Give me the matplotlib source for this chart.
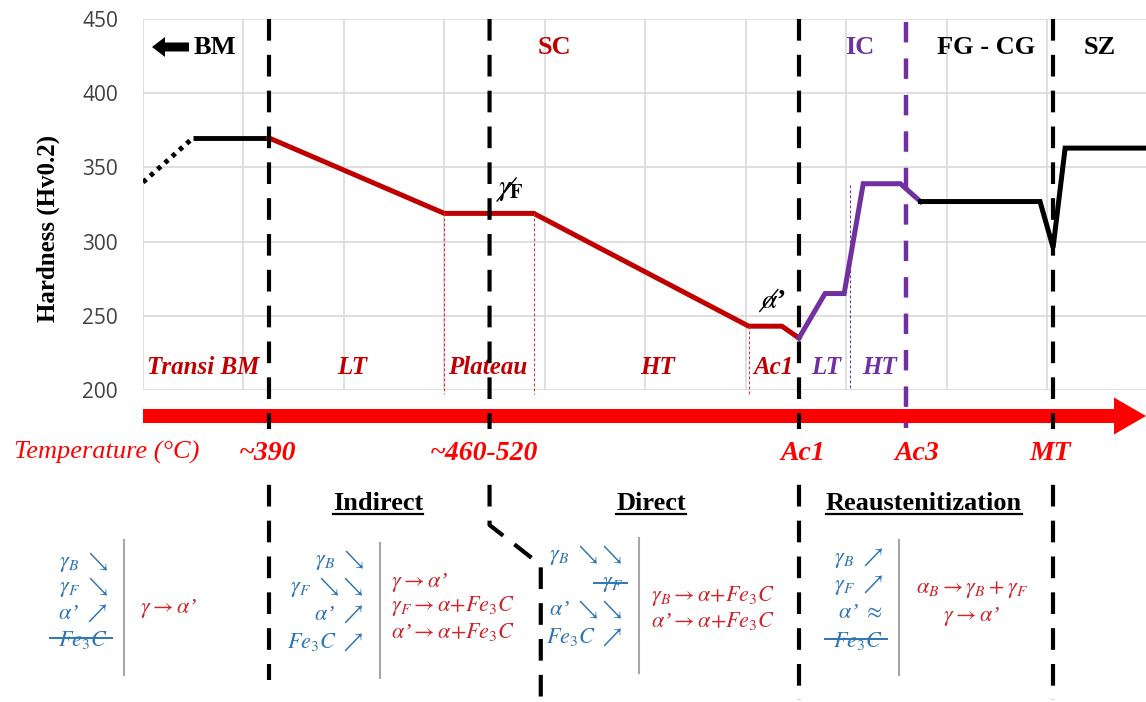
import matplotlib
matplotlib.use('Agg')
import matplotlib.pyplot as plt
from matplotlib.patches import FancyArrow
import matplotlib.transforms as mtransforms

plt.rcParams['mathtext.fontset'] = 'stix'
plt.rcParams['font.family'] = ['Liberation Serif', 'DejaVu Serif']

W, H = 1146, 702

# ---------------- data ----------------
y_ticks = [200, 250, 300, 350, 400, 450]
x_grid = [0, 1, 2, 3, 4, 5, 6, 7, 8, 9, 10]

bm_dot_x = [0.0, 0.5]
bm_dot_y = [340, 370]
bm_x = [0.5, 1.25]
bm_y = [370, 370]
sc_x = [1.25, 3.0, 3.89, 6.03, 6.36, 6.53]
sc_y = [370, 319, 319, 243, 243, 235]
ic_x = [6.53, 6.79, 6.98, 7.17, 7.54, 7.74]
ic_y = [235, 265, 265, 339, 339, 327]
fg_x = [7.74, 8.93, 9.06, 9.18, 10.0]
fg_y = [327, 327, 296, 363, 363]

zone_x = [1.25, 6.53, 9.06]
zone_bottom = [680, 700, 700]
sc_kink_x = [3.45, 3.45, 3.96, 3.96]
sc_kink_y = [19, 525, 565, 700]
ac3_x = 7.6
sc_sub_x = [3.0, 3.89, 6.03]
sc_sub_top = [319, 319, 243]
ic_sub_x = [7.04]
ic_sub_top = [338]

top_labels = ['BM', 'SC', 'IC', 'FG - CG', 'SZ']
top_label_x = [215, 554, 860, 986, 1100]
top_label_col = ['black', '#C00000', '#7030A0', 'black', 'black']

region_labels = ['Transi BM', 'LT', 'Plateau', 'HT', 'Ac1', 'LT', 'HT']
region_x = [203, 352, 488, 658, 773, 826, 880]
region_col = ['#C00000'] * 5 + ['#7030A0'] * 2

temp_labels = ['~390', '~460-520', 'Ac1', 'Ac3', 'MT']
temp_x = [268, 484, 803, 917, 1050]

section_labels = ['Indirect', 'Direct', 'Reaustenitization']
section_x = [378, 651, 924]

AP = '’'
blocks = [
    dict(blue=[r'$\gamma_B\ \searrow$', r'$\gamma_F\ \searrow$', r'$\alpha$' + AP + r' $\nearrow$', r'$Fe_3C$'],
         strike=[False, False, False, True], bx=108, by=[562, 587, 613, 640],
         sep=124, sep_y=(540, 675),
         red=[r'$\gamma \rightarrow \alpha$' + AP], rx=140, ry=[608], rha='left'),
    dict(blue=[r'$\gamma_B\ \searrow$', r'$\gamma_F\ \searrow\!\searrow$', r'$\alpha$' + AP + r' $\nearrow$', r'$Fe_3C\ \nearrow$'],
         strike=[False, False, False, False], bx=364, by=[560, 587, 614, 642],
         sep=380, sep_y=(543, 678),
         red=[r'$\gamma \rightarrow \alpha$' + AP, r'$\gamma_F \rightarrow \alpha{+}Fe_3C$',
              r'$\alpha$' + AP + r'$\rightarrow \alpha{+}Fe_3C$'],
         rx=391, ry=[582, 606, 632], rha='left'),
    dict(blue=[r'$\gamma_B\ \searrow\!\searrow$', r'$\gamma_F$', r'$\alpha$' + AP + r' $\searrow\!\searrow$', r'$Fe_3C\ \nearrow$'],
         strike=[False, True, False, False], bx=623, by=[555, 585, 610, 637],
         sep=639, sep_y=(538, 673),
         red=[r'$\gamma_B \rightarrow \alpha{+}Fe_3C$', r'$\alpha$' + AP + r'$\rightarrow \alpha{+}Fe_3C$'],
         rx=651, ry=[596, 621], rha='left'),
    dict(blue=[r'$\gamma_B\ \nearrow$', r'$\gamma_F\ \nearrow$', r'$\alpha$' + AP + r' $\approx$', r'$Fe_3C$'],
         strike=[False, False, False, True], bx=883, by=[558, 585, 613, 641],
         sep=899, sep_y=(540, 675),
         red=[r'$\alpha_B \rightarrow \gamma_B + \gamma_F$', r'$\gamma \rightarrow \alpha$' + AP],
         rx=972, ry=[590, 617], rha='center'),
]

RED = '#C00000'
PURPLE = '#7030A0'
BLUE = '#2E75B6'
FRED = '#D0242B'
TRED = '#FF0000'

# ---------------- figure ----------------
fig = plt.figure(figsize=(W / 100, H / 100), dpi=100)
ax = fig.add_axes([143 / W, 1 - 390 / H, 1004.5 / W, 371 / H])
ax.set_xlim(0, 10)
ax.set_ylim(200, 450)
ax.set_xticks(x_grid)
ax.set_yticks(y_ticks)
ax.set_xticklabels([])
ax.set_yticklabels([str(v) for v in y_ticks], fontfamily='Open Sans')
ax.tick_params(axis='both', length=0)
ax.tick_params(axis='y', pad=18, labelsize=15, labelcolor='#404040')
ax.grid(True, color='#DCDCDC', lw=1.3)
ax.set_axisbelow(True)
for s in ax.spines.values():
    s.set_visible(False)

# curves
ax.plot(bm_dot_x, bm_dot_y, color='black', lw=3.5, ls=(0, (0.9, 1.1)), solid_capstyle='butt')
ax.plot(bm_x, bm_y, color='black', lw=3.5, solid_capstyle='butt')
ax.plot(sc_x, sc_y, color=RED, lw=3.6, solid_joinstyle='miter')
ax.plot(ic_x, ic_y, color=PURPLE, lw=3.6, solid_joinstyle='miter')
ax.plot(fg_x, fg_y, color='black', lw=3.6, solid_joinstyle='miter')

# thin sub-region dashed lines
for x, t in zip(sc_sub_x, sc_sub_top):
    ax.plot([x, x], [t, 197], color='#E03030', lw=0.8, ls=(0, (2.5, 2)), clip_on=False)
for x, t in zip(ic_sub_x, ic_sub_top):
    ax.plot([x, x], [t, 200], color=PURPLE, lw=0.8, ls=(0, (2.5, 2)), clip_on=False)

# overlay in pixel coordinates
ov = fig.add_axes([0, 0, 1, 1])
ov.set_xlim(0, W)
ov.set_ylim(H, 0)
ov.set_autoscale_on(False)
ov.axis('off')
ov.patch.set_alpha(0)
trans = mtransforms.blended_transform_factory(ax.transData, ov.transData)

# temperature arrow
ov.add_patch(FancyArrow(143, 416, W - 143, 0, width=14, head_width=37, head_length=32,
                        length_includes_head=True, fc=TRED, ec='none', zorder=2))

# zone boundaries
dash_k = dict(color='black', lw=3, ls=(0, (5.2, 3.4)), zorder=4, solid_capstyle='butt')
for x, b in zip(zone_x, zone_bottom):
    ov.plot([x, x], [19, b], transform=trans, **dash_k)
ov.plot(sc_kink_x, sc_kink_y, transform=trans, **dash_k)
ov.plot([ac3_x, ac3_x], [22, 428], transform=trans, color=PURPLE, lw=3.2,
        ls=(0, (4.6, 3.6)), zorder=4)

# BM arrow
ov.add_patch(FancyArrow(189, 47, -37, 0, width=9, head_width=20, head_length=13,
                        length_includes_head=True, fc='black', ec='none', zorder=5))

# y label
ov.text(48, 228, 'Hardness (Hv0.2)', rotation=90, ha='center', va='center',
        fontsize=18, fontweight='bold', color='black')

for lab, x, c in zip(top_labels, top_label_x, top_label_col):
    ov.text(x, 48, lab, ha='center', va='center', fontsize=19, fontweight='bold', color=c)

for lab, x, c in zip(region_labels, region_x, region_col):
    ov.text(x, 368, lab, ha='center', va='center', fontsize=18, fontweight='bold',
            fontstyle='italic', color=c)

ov.text(107, 452, 'Temperature (°C)', ha='center', va='center', fontsize=19,
        fontstyle='italic', color=TRED)
for lab, x in zip(temp_labels, temp_x):
    ov.text(x, 453, lab, ha='center', va='center', fontsize=20, fontweight='bold',
            fontstyle='italic', color=TRED, zorder=6,
            bbox=dict(boxstyle='square,pad=0.42', fc='white', ec='none'))

sect_texts = []
for lab, x in zip(section_labels, section_x):
    sect_texts.append(ov.text(x, 503, lab, ha='center', va='center', fontsize=19,
                              fontweight='bold', color='black'))

# annotations on curve
t_gf = ov.text(511, 190, r'$\gamma_{\mathbf{F}}$', ha='center', va='center', fontsize=21, color='black')
t_al = ov.text(773, 301, r'$\alpha$’', ha='center', va='center', fontsize=20, color='black',
               fontweight='bold')

strike_texts = []
for blk in blocks:
    for s, y, st in zip(blk['blue'], blk['by'], blk['strike']):
        t = ov.text(blk['bx'], y, s, ha='right', va='center', fontsize=16, color=BLUE,
                    fontstyle='italic')
        if st:
            strike_texts.append(t)
    ov.plot([blk['sep'], blk['sep']], list(blk['sep_y']), color='#A6A6A6', lw=1.5)
    for s, y in zip(blk['red'], blk['ry']):
        ov.text(blk['rx'], y, s, ha=blk['rha'], va='center', fontsize=16, color=FRED,
                fontstyle='italic')

# decorations from text extents
fig.canvas.draw()
r = fig.canvas.get_renderer()
inv = ov.transData.inverted()


def ext(t):
    bb = t.get_window_extent(r)
    (x0, ya), (x1, yb) = inv.transform([[bb.x0, bb.y0], [bb.x1, bb.y1]])
    return x0, x1, min(ya, yb), max(ya, yb)


for t in strike_texts:
    x0, x1, top, bot = ext(t)
    ym = top + 0.42 * (bot - top)
    ov.plot([x0 - 8, x1 + 4], [ym, ym], color=BLUE, lw=1.4)

for t in sect_texts:
    x0, x1, top, bot = ext(t)
    ov.plot([x0, x1], [bot - 1, bot - 1], color='black', lw=1.6)

for t in (t_gf, t_al):
    x0, x1, top, bot = ext(t)
    ov.plot([x0 - 1, x0 + 0.7 * (x1 - x0)], [bot - 2, top + 1], color='black', lw=1.0)

fig.savefig('out.png', dpi=100)
